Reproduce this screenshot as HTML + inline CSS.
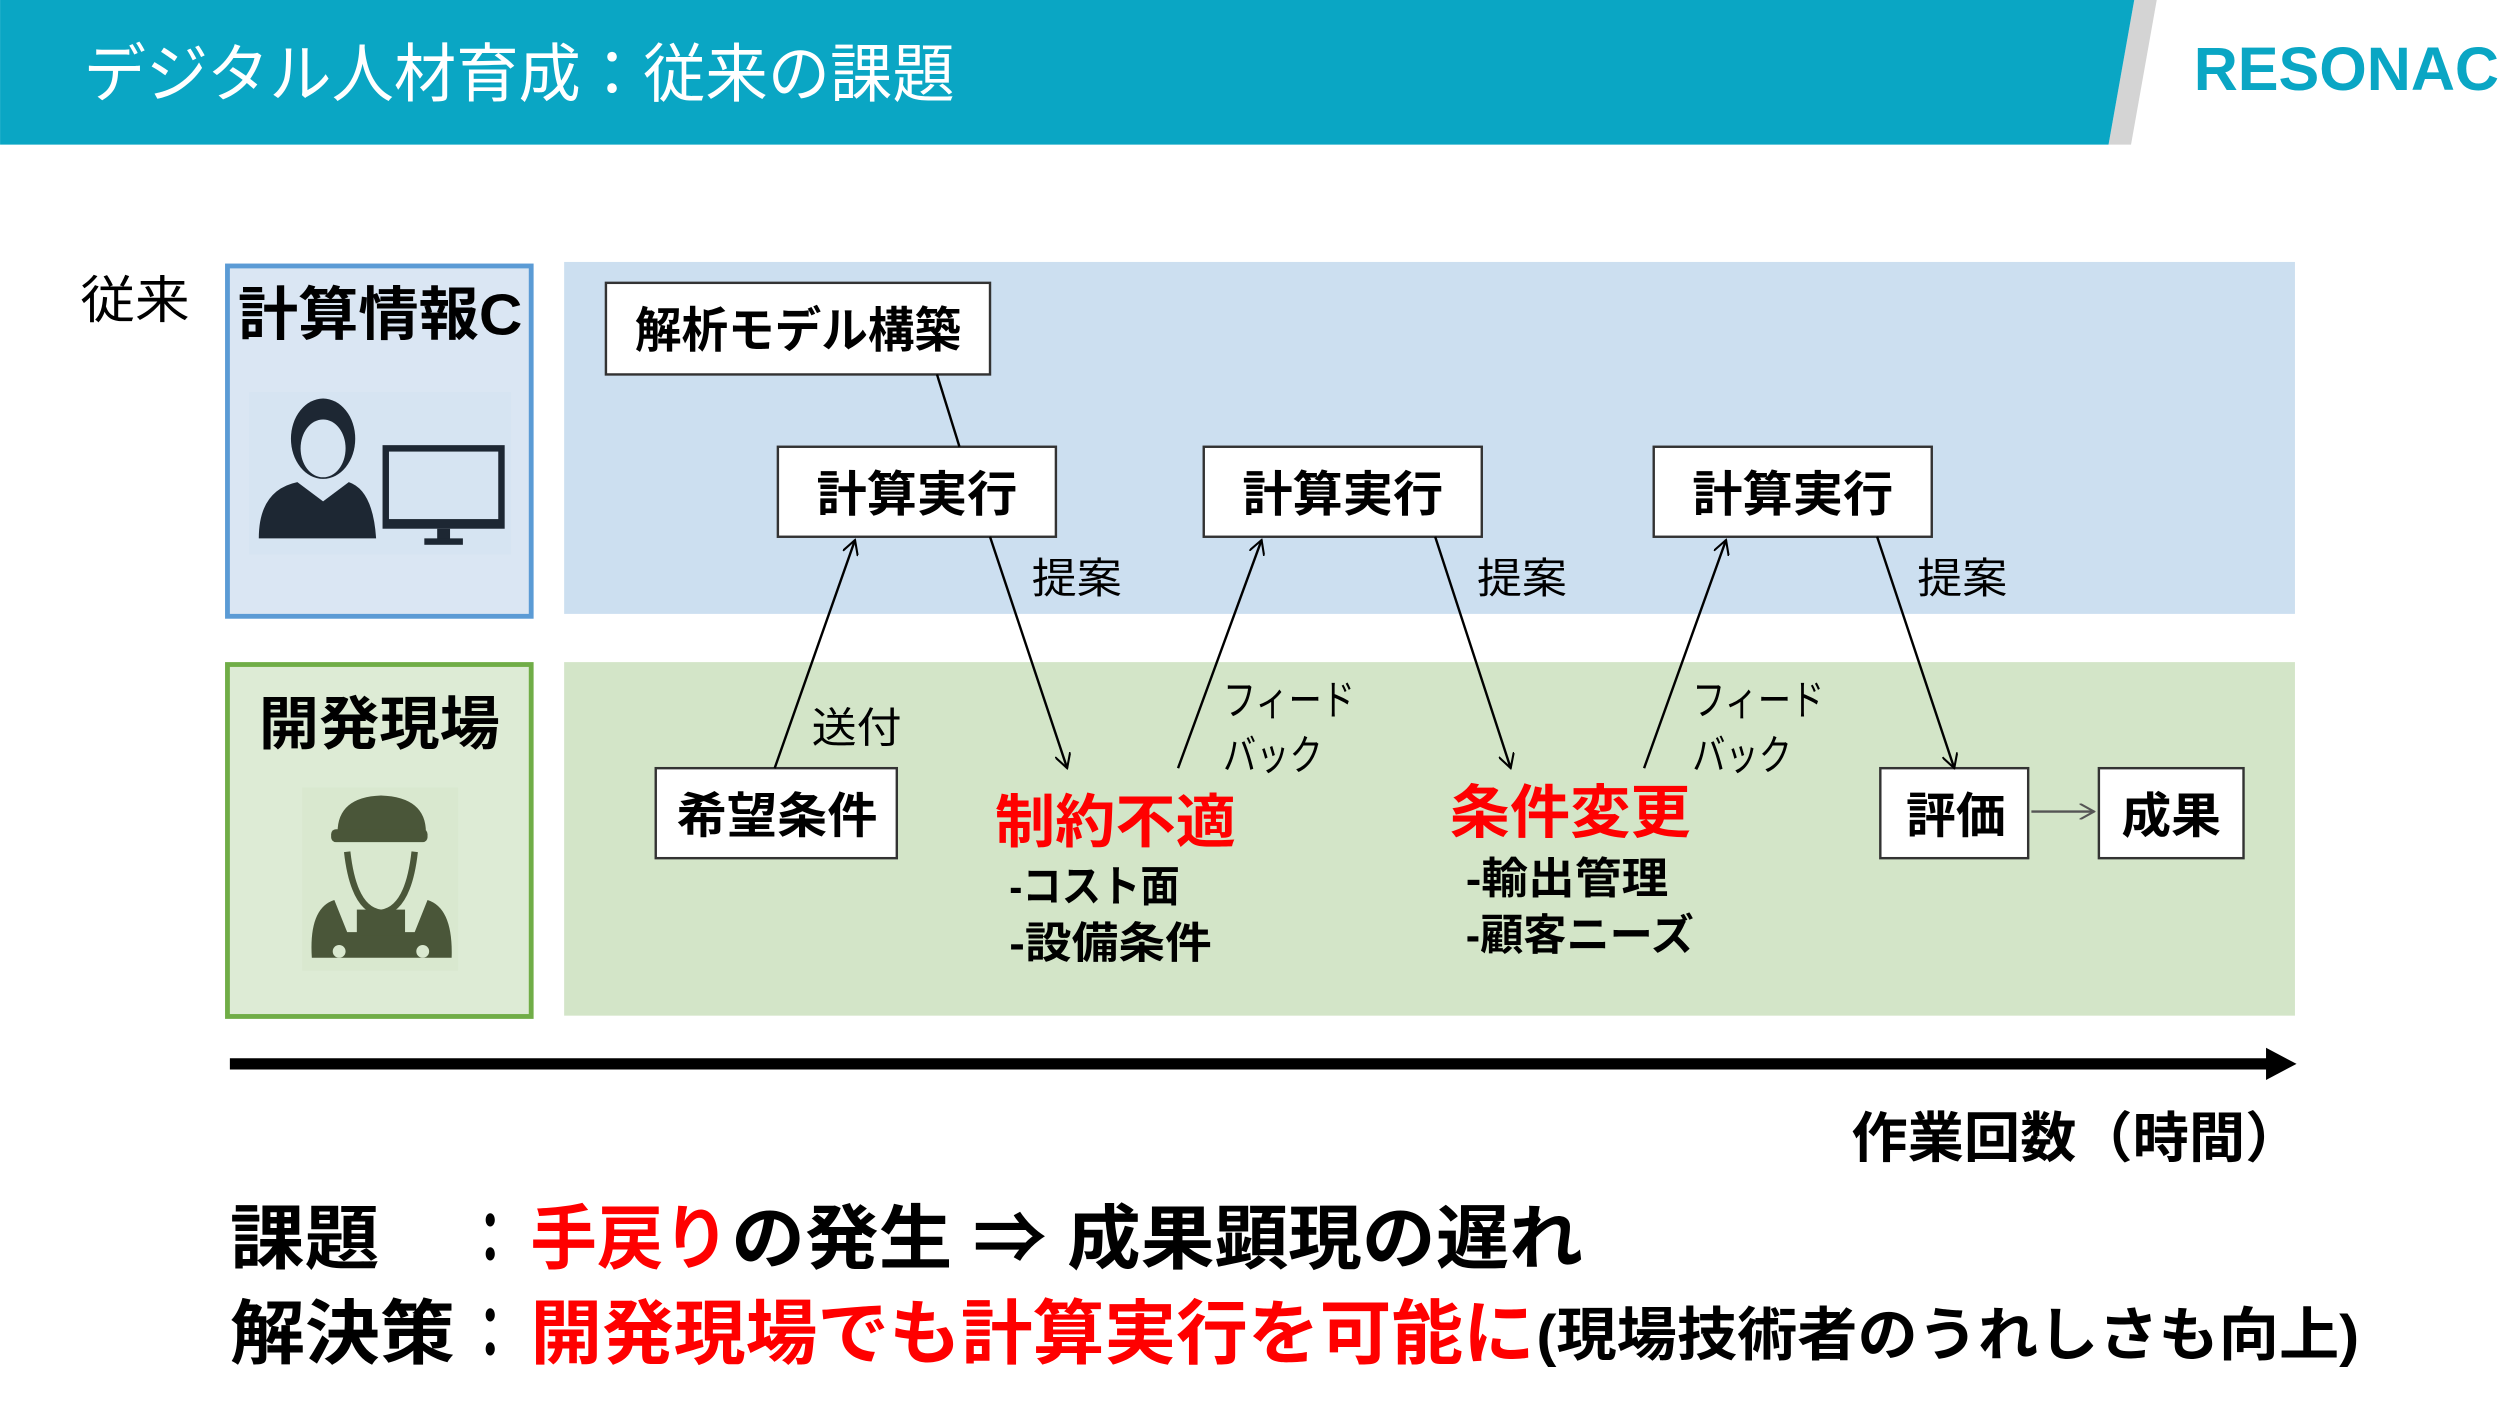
<!DOCTYPE html>
<html><head><meta charset="utf-8"><style>
html,body{margin:0;padding:0;background:#fff;}
svg{display:block;}
text{font-family:"Liberation Sans","Noto Sans CJK JP",sans-serif;}
.b{font-weight:700;}
</style></head><body>
<svg width="2520" height="1411" viewBox="0 0 1568 878" xmlns="http://www.w3.org/2000/svg">
<defs>
<marker id="ah" markerWidth="10" markerHeight="10" refX="9" refY="5" orient="auto" markerUnits="userSpaceOnUse">
<path d="M0,0 L9,5 L0,10" fill="none" stroke="#000" stroke-width="1.3"/>
</marker>
<marker id="ahg" markerWidth="10" markerHeight="10" refX="9" refY="5" orient="auto" markerUnits="userSpaceOnUse">
<path d="M0,0 L9,5 L0,10" fill="none" stroke="#555" stroke-width="1.3"/>
</marker>
</defs>
<!-- header -->
<polygon points="1328,0 1342,0 1326,90 1312,90" fill="#d4d4d4"/>
<polygon points="0,0 1328,0 1312,90 0,90" fill="#0AA6C4"/>
<text x="52" y="60" font-size="40" fill="#fff" textLength="542" lengthAdjust="spacingAndGlyphs">デジタル人材育成：従来の課題</text>
<text x="1365" y="56" font-size="38" font-weight="700" fill="#0AA6C4" textLength="190" lengthAdjust="spacingAndGlyphs">RESONAC</text>

<text x="50" y="198" font-size="32" fill="#000" textLength="68" lengthAdjust="spacingAndGlyphs">従来</text>

<!-- blue row -->
<rect x="141.5" y="165.5" width="189" height="218" fill="#DAE6F3" stroke="#5B9BD5" stroke-width="3"/>
<rect x="351" y="163" width="1077" height="219" fill="#CCDFF0"/>
<text x="148" y="208" font-size="36" class="b" textLength="177" lengthAdjust="spacingAndGlyphs">計算情報C</text>
<rect x="155" y="244" width="163" height="101" fill="#D6E4F2"/>
<!-- person icon -->
<ellipse cx="201" cy="273" rx="20" ry="25" fill="#1d2733"/>
<ellipse cx="201" cy="279" rx="14" ry="18" fill="#D6E4F2"/>
<path d="M161,335 Q161,305 185,300 L201,312 L217,300 Q232,305 234,335 Z" fill="#1d2733"/>
<rect x="238" y="277" width="76" height="52" fill="#1d2733"/>
<rect x="242" y="281" width="68" height="42" fill="#D6E4F2"/>
<rect x="272" y="329" width="8" height="8" fill="#1d2733"/>
<rect x="264" y="335" width="24" height="4" fill="#1d2733"/>

<!-- green row -->
<rect x="141.5" y="413.5" width="189" height="219" fill="#DDEBD5" stroke="#70AD47" stroke-width="3"/>
<rect x="351" y="412" width="1077" height="220" fill="#D3E5C8"/>
<text x="161" y="463" font-size="36" class="b" textLength="150" lengthAdjust="spacingAndGlyphs">開発現場</text>
<rect x="188" y="490" width="97" height="114" fill="#D9E8CF"/>
<!-- worker icon -->
<path d="M210,518 Q210,496 237,495 Q265,496 265,518 Z" fill="#4a5639"/>
<rect x="206" y="516" width="60" height="8" rx="3" fill="#4a5639"/>
<path d="M216,530 Q220,566 237,568 Q254,566 258,530" fill="none" stroke="#4a5639" stroke-width="4"/>
<path d="M194,596 Q192,565 208,560 L216,580 L258,580 L266,560 Q282,565 281,596 Z" fill="#4a5639"/>
<rect x="222" y="566" width="30" height="16" fill="#4a5639"/>
<circle cx="211" cy="592" r="4" fill="#D9E8CF"/>
<circle cx="263" cy="592" r="4" fill="#D9E8CF"/>

<!-- boxes -->
<g fill="#fff" stroke="#333" stroke-width="1.5">
<rect x="377" y="176" width="239" height="57"/>
<rect x="484" y="278" width="173" height="56"/>
<rect x="749" y="278" width="173" height="56"/>
<rect x="1029" y="278" width="173" height="56"/>
<rect x="408" y="478" width="150" height="56"/>
<rect x="1170" y="478" width="92" height="56"/>
<rect x="1306" y="478" width="90" height="56"/>
</g>
<g font-size="30" class="b">
<text x="395" y="216" textLength="203" lengthAdjust="spacingAndGlyphs">解析モデル構築</text>
<text x="508" y="318" textLength="125" lengthAdjust="spacingAndGlyphs">計算実行</text>
<text x="773" y="318" textLength="125" lengthAdjust="spacingAndGlyphs">計算実行</text>
<text x="1053" y="318" textLength="125" lengthAdjust="spacingAndGlyphs">計算実行</text>
<text x="421" y="518" textLength="125" lengthAdjust="spacingAndGlyphs">希望条件</text>
<text x="1186" y="518" textLength="62" lengthAdjust="spacingAndGlyphs">評価</text>
<text x="1320" y="518" textLength="62" lengthAdjust="spacingAndGlyphs">成果</text>
</g>

<!-- connectors -->
<g stroke="#000" stroke-width="1.5" fill="none">
<line x1="583" y1="233" x2="597" y2="278"/>
<line x1="482" y1="478" x2="532" y2="336" marker-end="url(#ah)"/>
<line x1="616" y1="334" x2="664" y2="478" marker-end="url(#ah)"/>
<line x1="733" y1="478" x2="785" y2="336" marker-end="url(#ah)"/>
<line x1="893" y1="334" x2="940" y2="478" marker-end="url(#ah)"/>
<line x1="1023" y1="478" x2="1074" y2="336" marker-end="url(#ah)"/>
<line x1="1168" y1="334" x2="1216" y2="478" marker-end="url(#ah)"/>
</g>
<line x1="1264" y1="505" x2="1303" y2="505" stroke="#555" stroke-width="1.5" marker-end="url(#ahg)"/>

<g font-size="26" fill="#000">
<text x="642" y="369" textLength="56" lengthAdjust="spacingAndGlyphs">提案</text>
<text x="919" y="369" textLength="56" lengthAdjust="spacingAndGlyphs">提案</text>
<text x="1193" y="369" textLength="56" lengthAdjust="spacingAndGlyphs">提案</text>
<text x="505" y="462" textLength="56" lengthAdjust="spacingAndGlyphs">送付</text>
<text x="761" y="445" textLength="82" lengthAdjust="spacingAndGlyphs">フィード</text>
<text x="761" y="479" textLength="62" lengthAdjust="spacingAndGlyphs">バック</text>
<text x="1053" y="445" textLength="82" lengthAdjust="spacingAndGlyphs">フィード</text>
<text x="1053" y="479" textLength="62" lengthAdjust="spacingAndGlyphs">バック</text>
</g>

<g class="b">
<text x="619" y="524" font-size="36" fill="#FF0000" textLength="150" lengthAdjust="spacingAndGlyphs">制約不適</text>
<text x="902" y="518" font-size="36" fill="#FF0000" textLength="150" lengthAdjust="spacingAndGlyphs">条件変更</text>
<text x="628" y="561" font-size="27" textLength="106" lengthAdjust="spacingAndGlyphs">-コスト面</text>
<text x="628" y="596" font-size="27" textLength="126" lengthAdjust="spacingAndGlyphs">-設備条件</text>
<text x="912" y="556" font-size="27" textLength="126" lengthAdjust="spacingAndGlyphs">-輸出管理</text>
<text x="912" y="591" font-size="27" textLength="142" lengthAdjust="spacingAndGlyphs">-顧客ニーズ</text>
</g>

<!-- time arrow -->
<rect x="143" y="658.5" width="1270" height="7" fill="#000"/>
<polygon points="1410,652 1429,662 1410,672" fill="#000"/>
<text x="1152" y="720" font-size="34" class="b" textLength="280" lengthAdjust="spacingAndGlyphs">作業回数（時間）</text>

<!-- bottom lines -->
<g class="b" font-size="44">
<text x="143" y="786" textLength="93" lengthAdjust="spacingAndGlyphs">課題</text>
<text x="290" y="786" textLength="30" lengthAdjust="spacingAndGlyphs">：</text>
<text x="330" y="786" fill="#FF0000" textLength="124" lengthAdjust="spacingAndGlyphs">手戻り</text>
<text x="455" y="786" textLength="530" lengthAdjust="spacingAndGlyphs">の発生 ⇒ 成果顕現の遅れ</text>
<text x="143" y="845" textLength="140" lengthAdjust="spacingAndGlyphs">解決策</text>
<text x="290" y="845" textLength="30" lengthAdjust="spacingAndGlyphs">：</text>
<text x="330" y="845" fill="#FF0000" textLength="625" lengthAdjust="spacingAndGlyphs">開発現場でも計算実行を可能に</text>
<text x="956" y="843" font-size="36" textLength="512" lengthAdjust="spacingAndGlyphs">(現場技術者のうれしさも向上)</text>
</g>
</svg>
</body></html>
